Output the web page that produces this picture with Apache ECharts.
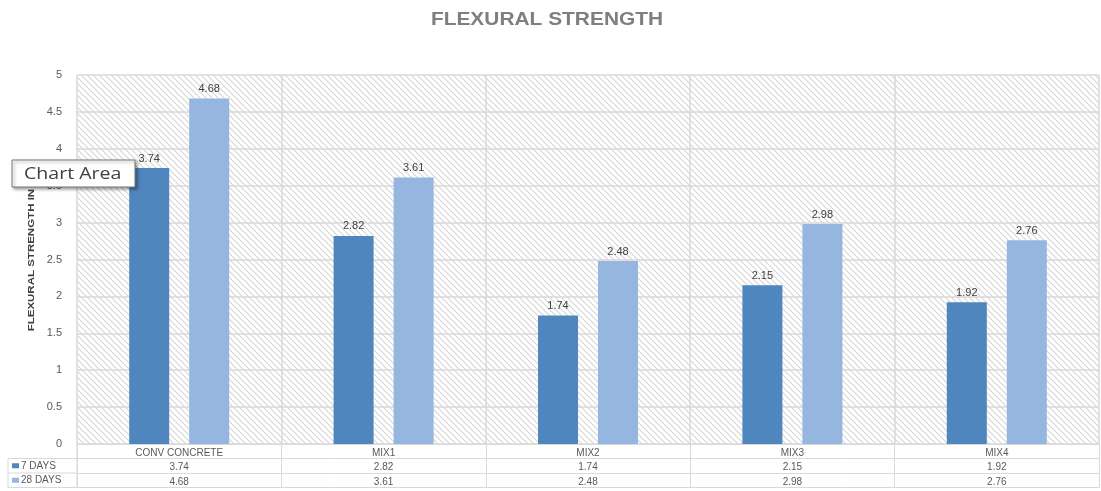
<!DOCTYPE html>
<html>
<head>
<meta charset="utf-8">
<script src="https://cdn.jsdelivr.net/npm/echarts@6/dist/echarts.min.js"></script>
<style>
html,body{margin:0;padding:0;background:#fff;}
#main{width:1101px;height:491px;}
</style>
</head>
<body>
<div id="main"></div>
<script>
const categories = ['CONV CONCRETE', 'MIX1', 'MIX2', 'MIX3', 'MIX4'];
const days7 = [3.74, 2.82, 1.74, 2.15, 1.92];
const days28 = [4.68, 3.61, 2.48, 2.98, 2.76];
const seriesNames = ['7 DAYS', '28 DAYS'];
const yTicks = [0, 0.5, 1, 1.5, 2, 2.5, 3, 3.5, 4, 4.5, 5];

const colors = ['#4f86bd', '#95b6de'];
const gridL = 77, gridR = 2, gridT = 75, gridB = 47;
const W = 1101, H = 491;
const rowH = 14.5;
const zeroY = H - gridB;

// hatch pattern
const tile = document.createElement('canvas');
tile.width = 6; tile.height = 6;
const c = tile.getContext('2d');
c.fillStyle = '#ffffff'; c.fillRect(0,0,6,6);
c.strokeStyle = '#d6d6d6'; c.lineWidth = 1.1;
c.beginPath();
c.moveTo(-1,-1); c.lineTo(7,7);
c.moveTo(-4,2); c.lineTo(2,8);
c.moveTo(4,-2); c.lineTo(8,2);
c.stroke();

const chart = echarts.init(document.getElementById('main'), null, {renderer:'canvas'});
const gridLineColor = '#d9d9d9';
const labelColor = '#595959';

function rowAxis(offset, fmt) {
  return {
    type: 'category', data: categories, position: 'bottom', offset: offset,
    axisLine: {show: true, lineStyle: {color: gridLineColor, width: 1}},
    axisTick: {show: false}, splitLine: {show: false},
    axisLabel: {show: !!fmt, formatter: fmt, fontSize: 10, color: labelColor, margin: 4, fontFamily: 'Liberation Sans'}
  };
}

const graphics = [
  {type:'text', x: 547, y: 20, scaleX: 1.1, style:{text:'FLEXURAL STRENGTH', font:'bold 19px "Liberation Sans", sans-serif', fill:'#7f7f7f', align:'center', verticalAlign:'middle'}},
  // y axis title
  {type:'text', x: 31, y: 247, rotation: Math.PI/2, scaleY: 0.85, style:{text:'FLEXURAL STRENGTH IN Mpa', font:'bold 11.5px "Liberation Sans", sans-serif', fill:'#404040', align:'center', verticalAlign:'middle'}},
  // left column box of table
  {type:'line', shape:{x1:8, y1:zeroY+rowH, x2:gridL, y2:zeroY+rowH}, style:{stroke:gridLineColor, lineWidth:1}},
  {type:'line', shape:{x1:8, y1:zeroY+2*rowH, x2:gridL, y2:zeroY+2*rowH}, style:{stroke:gridLineColor, lineWidth:1}},
  {type:'line', shape:{x1:8, y1:zeroY+3*rowH, x2:gridL, y2:zeroY+3*rowH}, style:{stroke:gridLineColor, lineWidth:1}},
  {type:'line', shape:{x1:8, y1:zeroY+rowH, x2:8, y2:zeroY+3*rowH}, style:{stroke:gridLineColor, lineWidth:1}},
  {type:'line', shape:{x1:gridL, y1:zeroY, x2:gridL, y2:zeroY+3*rowH}, style:{stroke:gridLineColor, lineWidth:1}}
];
seriesNames.forEach((n, i) => {
  const yc = zeroY + rowH*(i+1) + rowH/2;
  graphics.push({type:'rect', shape:{x:12, y:yc-2.5, width:7, height:5}, style:{fill:colors[i]}});
  graphics.push({type:'text', x:21, y:yc, style:{text:n, font:'10px "Liberation Sans", sans-serif', fill:labelColor, verticalAlign:'middle'}});
});
// "Chart Area" hover tip
graphics.push({type:'rect', shape:{x:12, y:160, width:123, height:27}, style:{fill:'#ffffff', stroke:'#767676', lineWidth:1, shadowBlur:3, shadowOffsetX:2, shadowOffsetY:2, shadowColor:'rgba(0,0,0,0.35)'}, z:100});
graphics.push({type:'text', x:24, y:174, scaleX: 1.15, style:{text:'Chart Area', font:'17px "Open Sans", sans-serif', fill:'#404040', verticalAlign:'middle'}, z:101});

chart.setOption({
  animation: false,
  backgroundColor: '#ffffff',
  grid: {left: gridL, right: gridR, top: gridT, bottom: gridB, show: true, borderWidth: 0,
         backgroundColor: {image: tile, repeat: 'repeat'}},
  xAxis: [
    {
      type: 'category', data: categories, position: 'bottom',
      axisLine: {show: true, lineStyle: {color: gridLineColor, width: 1}},
      axisTick: {show: true, length: rowH*3, lineStyle: {color: gridLineColor, width: 1}},
      splitLine: {show: true, lineStyle: {color: gridLineColor, width: 1.5}},
      axisLabel: {fontSize: 10, color: labelColor, margin: 4, fontFamily: 'Liberation Sans'}
    },
    rowAxis(rowH, (v, i) => days7[categories.indexOf(v)].toFixed(2)),
    rowAxis(rowH*2, (v, i) => days28[categories.indexOf(v)].toFixed(2)),
    rowAxis(rowH*3, null)
  ],
  yAxis: {
    type: 'value', min: yTicks[0], max: yTicks[yTicks.length-1], interval: 0.5,
    axisLine: {show: false}, axisTick: {show: false},
    splitLine: {show: true, lineStyle: {color: gridLineColor, width: 1.5}},
    axisLabel: {fontSize: 11, color: labelColor, margin: 15, fontFamily: 'Liberation Sans'}
  },
  series: [
    {name: seriesNames[0], type: 'bar', data: days7, barWidth: 40, barGap: '50%', itemStyle: {color: colors[0]},
     label: {show: true, position: 'top', distance: 4, fontSize: 11, color: '#404040', formatter: p => p.value.toFixed(2)}},
    {name: seriesNames[1], type: 'bar', data: days28, barWidth: 40, barGap: '50%', itemStyle: {color: colors[1]},
     label: {show: true, position: 'top', distance: 4, fontSize: 11, color: '#404040', formatter: p => p.value.toFixed(2)}}
  ],
  graphic: graphics
});
</script>
</body>
</html>
